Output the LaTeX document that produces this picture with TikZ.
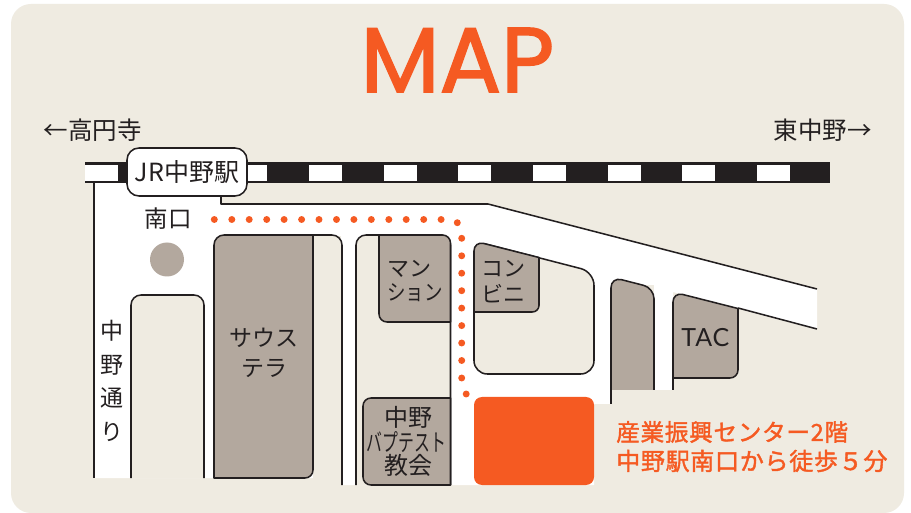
\documentclass[tikz,border=0pt]{standalone}
\usepackage{fontspec}
\setmainfont{Noto Sans CJK JP}
\newfontfamily\jp{Noto Sans CJK JP}
\newfontfamily\jpsp[LetterSpace=4]{Noto Sans CJK JP}
\newfontfamily\jpdest[LetterSpace=3,FakeBold=1.6]{Noto Sans CJK JP}
\newfontfamily\latin[LetterSpace=4]{Lato}
\newfontfamily\titlefont[FakeBold=1.8]{Poppins}
\definecolor{bgbeige}{HTML}{EFEBE1}
\definecolor{tan}{HTML}{B3A89E}
\definecolor{ink}{HTML}{231F20}
\definecolor{accent}{HTML}{F55A22}
\newcommand\px[1]{\fontsize{\the\dimexpr #1pt*3/4\relax}{\the\dimexpr #1pt*3/4\relax}\selectfont}
\tikzset{
  lbl/.style={inner sep=0pt,text=ink,align=center,font=\jp},
  road/.style={draw=ink,line width=1.15pt,line join=round},
  beigeblock/.style={road,fill=bgbeige},
  tanblock/.style={road,fill=tan},
  dotmark/.style={circle,fill=accent,inner sep=0pt,minimum size=5.2pt},
  tick/.style={fill=white,draw=none},
}
\begin{document}
\begin{tikzpicture}[x=.75pt,y=-.75pt]
\useasboundingbox (0,0) rectangle (911,513);
\fill[white] (0,0) rectangle (911,513);
\fill[bgbeige,rounded corners=15pt] (11,4) rectangle (904,513);

% title
\node[inner sep=0pt,text=accent] (title) at (457.5,60) {\resizebox{145pt}{48pt}{\titlefont MAP}};

% roads
\fill[white] (94,183) -- (221,183) -- (221,204) -- (488,204) -- (817,289) -- (817,329) -- (673,292)
  -- (673,390) -- (654,390) -- (654,285) -- (611,285) -- (611,404) -- (594,404) -- (594,485) -- (342,485) -- (342,478) -- (94,478) -- cycle;
\draw[road] (94,183) -- (94,478);
\draw[road] (221,196) -- (221,204) -- (488,204) -- (817,289);
\draw[road] (738,308) -- (817,329);

% rail
\fill[ink] (85,162) rectangle (830,183);
\foreach \x in {85,234,309,384,458,533,608,682,757}
  \fill[tick] (\x,165) rectangle ++(32.5,16);

% blocks
\path[beigeblock,rounded corners=7.5pt] (131,478) -- (131,295) -- (204,295) -- (204,478);
\fill[bgbeige] (313,236) rectangle (341,485);
\draw[road,rounded corners=7.5pt] (300,235) -- (342,235) -- (342,485);
\path[tanblock,rounded corners=7.5pt] (214,478) -- (214,235) -- (270,235) [sharp corners] -- (313,235) [rounded corners=6pt] -- (313,478) [sharp corners] -- cycle;

\path[beigeblock,rounded corners=7.5pt] (356,485) -- (356,235) -- (450.5,235) -- (450.5,485);
\path[tanblock] (379,235) [rounded corners=6pt] -- (450.5,235) [sharp corners] -- (450.5,322) [rounded corners=6pt] -- (379,322) [sharp corners] -- cycle;
\path[tanblock] (450.5,398) [rounded corners=6pt] -- (363,398) -- (363,485) [sharp corners] -- (450.5,485) -- cycle;

\path[beigeblock,rounded corners=10pt] (474,374) -- (474,241) -- (594,272) -- (594,374) -- cycle;
\path[tanblock] (474,312) [rounded corners=7.5pt] -- (474,241) [sharp corners] -- (539,257.5) [rounded corners=5pt] -- (539,312) [sharp corners] -- cycle;

\path[tanblock,rounded corners=8pt] (611,390) -- (611,277) -- (654,288) -- (654,390);
\draw[road] (611,385) -- (611,404);
\path[tanblock] (673,378) [rounded corners=7.5pt] -- (673,292) [sharp corners] -- (738,308.5) [rounded corners=6pt] -- (738,378) [sharp corners] -- cycle;
\draw[road] (673,378) -- (673,390);

% destination
\fill[accent,rounded corners=6pt] (474,397) rectangle (594,485);
\node[circle,fill=tan,inner sep=0pt,minimum size=25.5pt] (exit) at (167,259.5) {};

% dotted walking route
\foreach \x in {214.3,231.8,249.2,266.7,284.1,301.6,319,336.5,353.9,371.3,388.8,406.2,423.7,441.1}
  \node[dotmark] at (\x,219.5) {};
\node[dotmark] at (457.3,222.7) {};
\foreach \y in {238.3,255.8,273.2,290.7,308.1,325.6,343,360.5,378}
  \node[dotmark] at (461.7,\y) {};
\node[dotmark] at (466.2,394) {};

% station
\node[draw=ink,line width=1.15pt,fill=white,rounded corners=9pt,minimum width=90pt,minimum height=36pt,inner sep=0pt,text=ink,font=\jp\px{25}] (station) at (187,172) {JR中野駅};

% labels
\node[lbl,font=\jp\px{24.5}] (west) at (92.5,130) {←高円寺};
\node[lbl,font=\jp\px{24.5}] (east) at (822.5,130) {東中野→};
\node[lbl,font=\jpsp\px{23.5}] (south) at (168.5,219) {南口};
\node[lbl,font=\jp\px{23}] (street) at (112,381) {中\\[8pt]野\\[8pt]通\\[8pt]り};
\node[lbl,font=\jp\px{23}] (saus) at (264,353) {サウス\\[5pt]テラ};
\node[lbl,font=\jp\px{22},anchor=west,align=left] (mans) at (387,281) {マン\\[1pt]\scalebox{.84}[1]{ション}};
\node[lbl,font=\jp\px{22},anchor=west,align=left] (conv) at (481,281.5) {コン\\[3pt]ビニ};
\node[lbl,font=\latin\px{25},anchor=west] (tac) at (681,338) {TAC};
\node[lbl,font=\jp\px{24}] (ch1) at (408,417) {中野};
\node[lbl,font=\jp\px{24},xscale=.66] (ch2) at (406.5,442) {バプテスト};
\node[lbl,font=\jp\px{24}] (ch3) at (408,465) {教会};
\node[lbl,text=accent,font=\jpdest\px{23.6},anchor=west] (dest1) at (616,432) {産業振興センター2階};
\node[lbl,text=accent,font=\jpdest\px{24},anchor=west] (dest2) at (616,461) {中野駅南口から徒歩５分};
\end{tikzpicture}
\end{document}
